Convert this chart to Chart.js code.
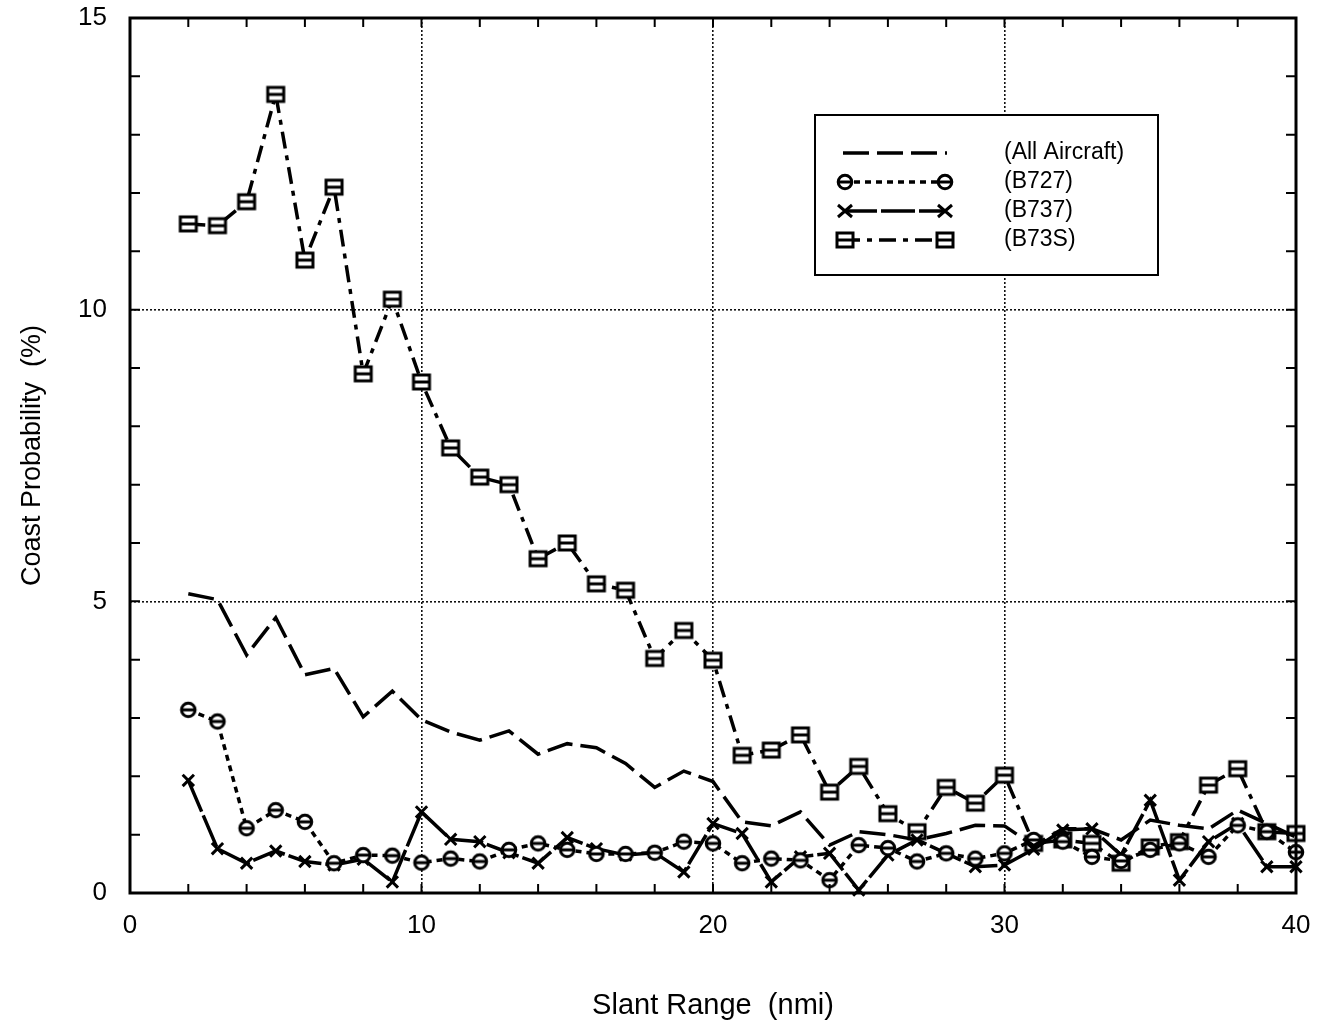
<!DOCTYPE html>
<html>
<head>
<meta charset="utf-8">
<script src="https://cdn.jsdelivr.net/npm/chart.js@4.4.1/dist/chart.umd.min.js"></script>
<style>
  body { margin: 0; background: #fff; }
  #chartContainer { width: 1318px; height: 1028px; }
</style>
</head>
<body>
<div id="chartContainer"><canvas id="chartCanvas" width="1318" height="1028"></canvas></div>
<script>
// Slant range (nmi) for every sample
const slantRange = [2, 3, 4, 5, 6, 7, 8, 9, 10, 11, 12, 13, 14, 15, 16, 17, 18, 19, 20,
    21, 22, 23, 24, 25, 26, 27, 28, 29, 30, 31, 32, 33, 34, 35, 36, 37, 38, 39, 40];

// Coast probability (%)
const allAircraft = [5.13, 5.03, 4.08, 4.72, 3.74, 3.85, 3.02, 3.46, 2.97, 2.76, 2.62, 2.78, 2.38, 2.56, 2.49, 2.22, 1.81, 2.09, 1.91,
    1.22, 1.15, 1.39, 0.82, 1.05, 1.00, 0.91, 1.02, 1.16, 1.15, 0.81, 1.10, 1.10, 0.91, 1.25, 1.16, 1.10, 1.42, 1.19, 0.96];
const b727 = [3.14, 2.94, 1.11, 1.42, 1.22, 0.51, 0.65, 0.64, 0.52, 0.59, 0.54, 0.74, 0.85, 0.74, 0.67, 0.67, 0.69, 0.88, 0.85,
    0.51, 0.59, 0.56, 0.22, 0.82, 0.77, 0.54, 0.68, 0.59, 0.68, 0.91, 0.88, 0.62, 0.55, 0.74, 0.85, 0.62, 1.16, 1.05, 0.70];
const b737 = [1.93, 0.76, 0.51, 0.72, 0.54, 0.48, 0.58, 0.19, 1.39, 0.92, 0.88, 0.69, 0.51, 0.95, 0.76, 0.65, 0.69, 0.36, 1.19,
    1.02, 0.19, 0.62, 0.68, 0.05, 0.65, 0.91, 0.68, 0.45, 0.48, 0.75, 1.08, 1.10, 0.65, 1.59, 0.22, 0.88, 1.19, 0.45, 0.45];
const b73s = [11.47, 11.44, 11.85, 13.69, 10.85, 12.10, 8.90, 10.18, 8.76, 7.63, 7.13, 7.00, 5.73, 6.00, 5.30, 5.19, 4.02, 4.50, 3.99,
    2.36, 2.45, 2.71, 1.73, 2.17, 1.36, 1.05, 1.81, 1.54, 2.02, 0.85, 0.91, 0.85, 0.51, 0.79, 0.88, 1.85, 2.13, 1.05, 1.02];

const xLabels = [0, 10, 20, 30, 40];
const yLabels = [0, 5, 10, 15];

const FONT = "'Liberation Sans', Arial, sans-serif";

// little marker images: circle with a bar, square with a bar
function makeMarker(kind) {
    const c = document.createElement("canvas");
    c.width = 22; c.height = 22;
    const g = c.getContext("2d");
    g.lineWidth = 3;
    g.strokeStyle = "#000";
    g.fillStyle = "#fff";
    if (kind === "theta") {
        g.beginPath(); g.arc(11, 11, 6.8, 0, Math.PI * 2); g.fill(); g.stroke();
        g.beginPath(); g.moveTo(4.5, 11); g.lineTo(17.5, 11); g.stroke();
    } else {
        g.fillRect(3, 4, 16, 14); g.strokeRect(3, 4, 16, 14);
        g.beginPath(); g.moveTo(3.5, 11); g.lineTo(18.5, 11); g.stroke();
    }
    return c;
}
const thetaMark = makeMarker("theta");
const squareMark = makeMarker("square");

const toPoints = vals => vals.map((v, i) => ({ x: slantRange[i], y: v }));

const series = [
    { label: "(All Aircraft)", data: allAircraft, dash: [26, 8], pointStyle: false },
    { label: "(B727)", data: b727, dash: [6, 5], pointStyle: thetaMark },
    { label: "(B737)", data: b737, dash: [34, 4], pointStyle: "crossRot" },
    { label: "(B73S)", data: b73s, dash: [17, 7, 5, 7], pointStyle: squareMark },
];

// frame, inward ticks and the boxed legend
const framePlugin = {
    id: "frame",
    afterDraw(chart) {
        const { ctx, chartArea: a, scales } = chart;
        ctx.save();
        ctx.strokeStyle = "#000";
        ctx.lineWidth = 2;
        ctx.setLineDash([]);
        scales.x.ticks.forEach(t => {
            const px = scales.x.getPixelForValue(t.value);
            ctx.beginPath();
            ctx.moveTo(px, a.bottom); ctx.lineTo(px, a.bottom - 9);
            ctx.moveTo(px, a.top); ctx.lineTo(px, a.top + 9);
            ctx.stroke();
        });
        scales.y.ticks.forEach(t => {
            const py = scales.y.getPixelForValue(t.value);
            ctx.beginPath();
            ctx.moveTo(a.left, py); ctx.lineTo(a.left + 10, py);
            ctx.moveTo(a.right, py); ctx.lineTo(a.right - 10, py);
            ctx.stroke();
        });
        ctx.lineWidth = 3;
        ctx.strokeRect(a.left, a.top, a.width, a.height);

        // legend box
        const bx = 815, by = 115, bw = 343, bh = 160;
        ctx.lineWidth = 2;
        ctx.fillStyle = "#fff";
        ctx.fillRect(bx, by, bw, bh);
        ctx.strokeRect(bx, by, bw, bh);
        ctx.font = "23px " + FONT;
        ctx.textBaseline = "middle";
        chart.data.datasets.forEach((ds, i) => {
            const ly = by + 38 + i * 29;
            ctx.lineWidth = 3.5;
            ctx.setLineDash(ds.borderDash);
            ctx.beginPath();
            ctx.moveTo(843, ly); ctx.lineTo(947, ly);
            ctx.stroke();
            ctx.setLineDash([]);
            if (ds.pointStyle instanceof HTMLCanvasElement) {
                ctx.drawImage(ds.pointStyle, 845 - 11, ly - 11);
                ctx.drawImage(ds.pointStyle, 945 - 11, ly - 11);
            } else if (ds.pointStyle === "crossRot") {
                ctx.lineWidth = 3;
                [845, 945].forEach(cx => {
                    ctx.beginPath();
                    ctx.moveTo(cx - 7, ly - 6); ctx.lineTo(cx + 7, ly + 6);
                    ctx.moveTo(cx + 7, ly - 6); ctx.lineTo(cx - 7, ly + 6);
                    ctx.stroke();
                });
            }
            ctx.fillStyle = "#000";
            ctx.fillText(ds.label, 1004, ly);
        });
        ctx.restore();
    }
};

const isMajor = (v, list, lo, hi) => list.includes(v) && v > lo && v < hi;

new Chart(document.getElementById("chartCanvas").getContext("2d"), {
    type: "line",
    data: {
        datasets: series.map(s => ({
            label: s.label,
            data: toPoints(s.data),
            borderColor: "#000",
            backgroundColor: "#000",
            borderWidth: 3.5,
            borderDash: s.dash,
            pointStyle: s.pointStyle,
            pointRadius: s.pointStyle ? 8 : 0,
            pointBorderWidth: 3,
            pointBorderColor: "#000",
            tension: 0,
            clip: false,
        })),
    },
    options: {
        responsive: false,
        animation: false,
        layout: { autoPadding: false, padding: { left: 0, top: 18, right: 22, bottom: 0 } },
        plugins: { legend: { display: false }, tooltip: { enabled: false } },
        scales: {
            x: {
                type: "linear",
                min: 0, max: 40,
                afterFit: s => { s.height = 135; },
                ticks: {
                    stepSize: 2,
                    autoSkip: false,
                    maxRotation: 0,
                    padding: 2,
                    color: "#000",
                    font: { family: FONT, size: 26 },
                    callback: v => xLabels.includes(v) ? String(v) : "",
                },
                grid: {
                    drawTicks: true,
                    tickLength: 15,
                    tickColor: "rgba(0,0,0,0)",
                    lineWidth: 1.6,
                    color: c => c.tick && isMajor(c.tick.value, xLabels, 0, 40) ? "#111" : "rgba(0,0,0,0)",
                },
                border: { display: false, dash: [2, 2] },
                title: {
                    display: true,
                    text: "Slant Range  (nmi)",
                    color: "#000",
                    font: { family: FONT, size: 29 },
                    padding: { top: 0, bottom: 5 },
                },
            },
            y: {
                min: 0, max: 15,
                afterFit: s => { s.width = 130; },
                ticks: {
                    stepSize: 1,
                    autoSkip: false,
                    padding: 2,
                    color: "#000",
                    font: { family: FONT, size: 26 },
                    callback: v => yLabels.includes(v) ? String(v) : "",
                },
                grid: {
                    drawTicks: true,
                    tickLength: 21,
                    tickColor: "rgba(0,0,0,0)",
                    lineWidth: 1.6,
                    color: c => c.tick && isMajor(c.tick.value, yLabels, 0, 15) ? "#111" : "rgba(0,0,0,0)",
                },
                border: { display: false, dash: [2, 2] },
                title: {
                    display: true,
                    text: "Coast Probability  (%)",
                    color: "#000",
                    font: { family: FONT, size: 27 },
                    padding: { top: 16, bottom: 0 },
                },
            },
        },
    },
    plugins: [framePlugin],
});
</script>
</body>
</html>
